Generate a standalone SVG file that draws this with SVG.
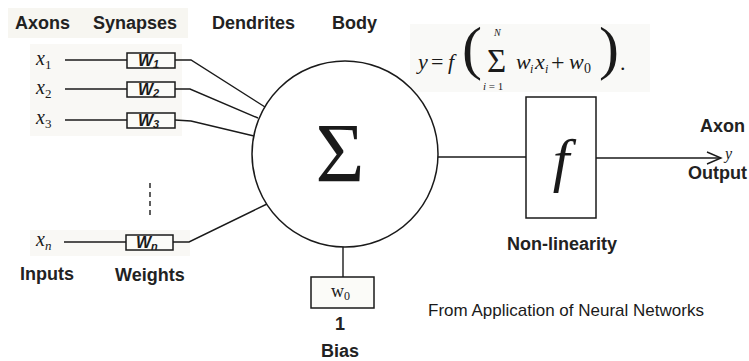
<svg xmlns="http://www.w3.org/2000/svg" width="749" height="361" viewBox="0 0 749 361">
<style>
.lbl{font-family:"Liberation Sans",Arial,sans-serif;font-size:18px;font-weight:bold;fill:#222222}
.var{font-family:"Liberation Serif","Times New Roman",serif;font-style:italic;fill:#1a1a1a}
.wt{font-family:"Liberation Sans",Arial,sans-serif;font-style:italic;font-weight:bold;font-size:16px;fill:#1a1a1a}
.ln{stroke:#1a1a1a;stroke-width:1.4;fill:none}
.box{fill:#fbfbf8;stroke:#1a1a1a;stroke-width:1.5}
.math{font-family:"Liberation Serif","Times New Roman",serif;fill:#1a1a1a}
</style>
<rect width="749" height="361" fill="#ffffff"/>
<rect x="8" y="8" width="180" height="30" fill="#f7f6f1"/>
<rect x="30" y="44" width="152" height="92" fill="#f9f8f5"/>
<rect x="30" y="230" width="160" height="26" fill="#f9f8f5"/>
<rect x="410" y="24" width="240" height="68" fill="#f9f9f7"/>

<g id="headers">
<text class="lbl" x="15" y="29">Axons</text>
<text class="lbl" x="93" y="29">Synapses</text>
<text class="lbl" x="212" y="29">Dendrites</text>
<text class="lbl" x="332" y="29">Body</text>
</g>

<g id="formula">
<text class="math" font-style="italic" font-size="22" x="418" y="69">y</text>
<text class="math" font-size="22" x="431" y="69">=</text>
<text class="math" font-style="italic" font-size="22" x="448" y="69">f</text>
<text class="math" font-size="60" x="462" y="68">(</text>
<text class="math" font-size="33" x="487" y="72">Σ</text>
<text class="math" font-style="italic" font-size="10" x="494" y="36">N</text>
<text class="math" font-size="11" x="483" y="90"><tspan font-style="italic">i</tspan> = 1</text>
<text class="math" font-style="italic" font-size="22" x="516" y="69">w</text>
<text class="math" font-style="italic" font-size="12" x="530" y="73">i</text>
<text class="math" font-style="italic" font-size="22" x="535" y="69">x</text>
<text class="math" font-style="italic" font-size="12" x="545" y="73">i</text>
<text class="math" font-size="24" x="551" y="70">+</text>
<text class="math" font-style="italic" font-size="22" x="569" y="69">w</text>
<text class="math" font-size="14" x="584" y="73">0</text>
<text class="math" font-size="60" x="599" y="68">)</text>
<text class="math" font-size="22" x="620" y="70">.</text>
</g>

<g id="connectors">
<line class="ln" x1="65" y1="60" x2="127" y2="60"/>
<line class="ln" x1="65" y1="89" x2="127" y2="89"/>
<line class="ln" x1="65" y1="120" x2="127" y2="120"/>
<line class="ln" x1="64" y1="242" x2="126" y2="242"/>
<line class="ln" x1="150" y1="183" x2="150" y2="218" stroke-dasharray="5 4"/>
<polyline class="ln" points="175,60 191,60 265,107"/>
<polyline class="ln" points="175,89 190,89 258,118"/>
<polyline class="ln" points="175,120 191,121 254,136"/>
<polyline class="ln" points="173,242 189,242 267,204"/>
<line class="ln" x1="438" y1="157" x2="526" y2="157"/>
<line class="ln" x1="596" y1="158" x2="721" y2="158"/>
<polyline class="ln" points="707,152 721,158 707,164"/>
<line class="ln" x1="343" y1="247" x2="343" y2="277"/>
</g>

<g id="input-x1"><text class="var" font-size="20" x="36" y="65">x<tspan font-style="normal" font-size="13" dy="4">1</tspan></text></g>
<g id="input-x2"><text class="var" font-size="20" x="36" y="94">x<tspan font-style="normal" font-size="13" dy="4">2</tspan></text></g>
<g id="input-x3"><text class="var" font-size="20" x="36" y="124">x<tspan font-style="normal" font-size="13" dy="4">3</tspan></text></g>
<g id="input-xn"><text class="var" font-size="20" x="36" y="246">x<tspan font-size="13" dy="4">n</tspan></text></g>

<g id="weight-w1"><rect class="box" x="127" y="53" width="48" height="15"/><text class="wt" x="138" y="66">W<tspan font-size="11" dy="2">1</tspan></text></g>
<g id="weight-w2"><rect class="box" x="127" y="82" width="48" height="15"/><text class="wt" x="138" y="95">W<tspan font-size="11" dy="2">2</tspan></text></g>
<g id="weight-w3"><rect class="box" x="127" y="113" width="48" height="15"/><text class="wt" x="138" y="126">W<tspan font-size="11" dy="2">3</tspan></text></g>
<g id="weight-wn"><rect class="box" x="126" y="235" width="47" height="15"/><text class="wt" x="136" y="248">W<tspan font-size="11" dy="2">n</tspan></text></g>

<g id="body">
<circle cx="345" cy="154" r="93" fill="#ffffff" stroke="#1a1a1a" stroke-width="1.5"/>
<text class="math" font-size="84" x="340" y="182" text-anchor="middle">Σ</text>
</g>

<g id="nonlinearity">
<rect x="526" y="97" width="70" height="121" fill="#ffffff" stroke="#1a1a1a" stroke-width="1.5"/>
<text class="math" font-style="italic" font-size="60" x="561" y="180" text-anchor="middle">f</text>
<text class="lbl" x="562" y="250" text-anchor="middle">Non-linearity</text>
</g>

<g id="bias">
<rect class="box" x="311" y="277" width="63" height="31"/>
<text class="math" font-size="18" x="331" y="297">w<tspan font-size="12" dy="3">0</tspan></text>
<text class="lbl" x="340" y="330" text-anchor="middle">1</text>
<text class="lbl" x="340" y="357" text-anchor="middle">Bias</text>
</g>

<g id="output">
<text class="lbl" x="700" y="132">Axon</text>
<text class="var" font-size="16" x="725" y="159">y</text>
<text class="lbl" x="688" y="179">Output</text>
</g>

<g id="labels">
<text class="lbl" x="20" y="280">Inputs</text>
<text class="lbl" x="115" y="281">Weights</text>
<text x="428" y="316" font-family="Liberation Sans, Arial, sans-serif" font-size="17" fill="#1a1a1a">From Application of Neural Networks</text>
</g>
</svg>
